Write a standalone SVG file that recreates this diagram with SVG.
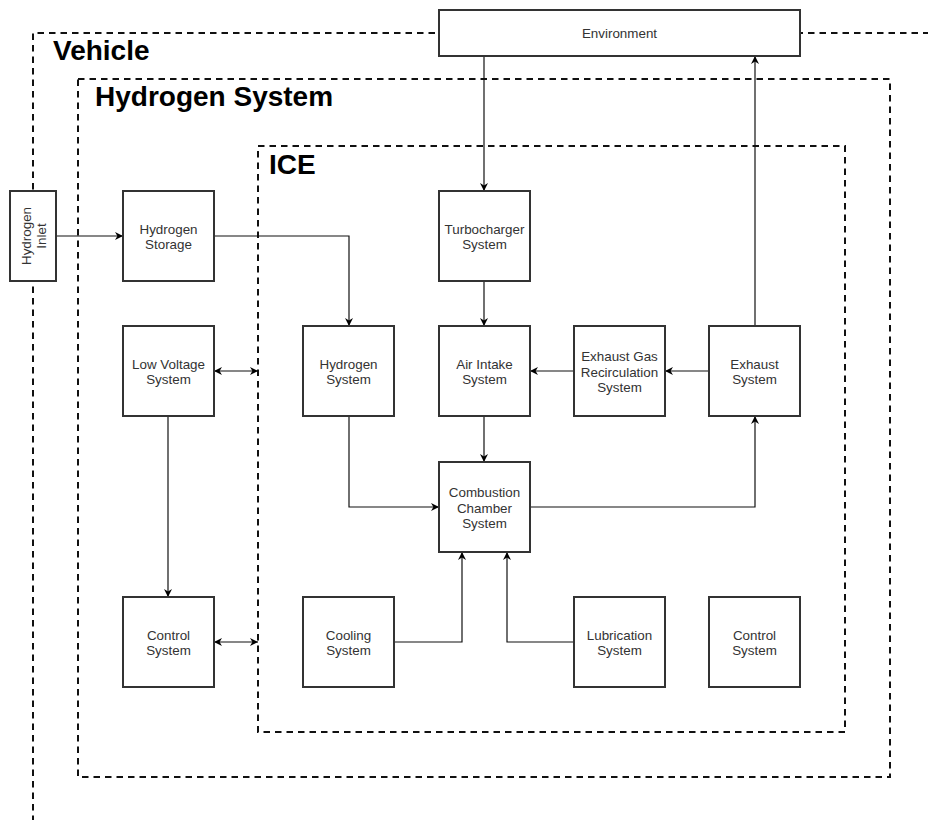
<svg xmlns="http://www.w3.org/2000/svg" width="928" height="820" viewBox="0 0 928 820">
  <defs>
    <marker id="arrow" viewBox="0 0 10 10" refX="10" refY="5" markerWidth="8" markerHeight="8" markerUnits="userSpaceOnUse" orient="auto-start-reverse">
      <path d="M0,0 L10,5 L0,10 L3,5 Z" fill="#000"/>
    </marker>
    <style>
      .frame { fill: none; stroke: #111; stroke-width: 2; stroke-dasharray: 6.5 5; }
      .title { font-family: "Liberation Sans", Arial, sans-serif; font-weight: bold; font-size: 28px; fill: #000; }
      .box { fill: #fff; stroke: #333; stroke-width: 2; }
      .label { font-family: "Liberation Sans", Arial, sans-serif; font-size: 13.4px; fill: #333; text-anchor: middle; }
      .link { fill: none; stroke: #111; stroke-width: 1.2; }
      .one { marker-end: url(#arrow); }
      .both { marker-start: url(#arrow); marker-end: url(#arrow); }
    </style>
  </defs>

  <rect width="928" height="820" fill="#fff"/>

  <!-- System boundaries -->
  <g id="vehicle">
    <path class="frame" d="M33,822 V33 H940"/>
    <text class="title" x="53" y="60">Vehicle</text>
  </g>
  <g id="hydrogen-system-boundary">
    <rect class="frame" x="78" y="79" width="812" height="698"/>
    <text class="title" x="95" y="106">Hydrogen System</text>
  </g>
  <g id="ice">
    <rect class="frame" x="258" y="146" width="587" height="586"/>
    <text class="title" x="269" y="174">ICE</text>
  </g>

  <!-- Connectors -->
  <g id="connectors">
    <path class="link one" d="M484,56 V191"/>
    <path class="link one" d="M755,326 V56"/>
    <path class="link one" d="M56,236 H123"/>
    <path class="link one" d="M214,236 H349 V326"/>
    <path class="link one" d="M484,281 V326"/>
    <path class="link one" d="M574,371 H530"/>
    <path class="link one" d="M709,371 H665"/>
    <path class="link one" d="M484,416 V462"/>
    <path class="link one" d="M349,416 V507 H439"/>
    <path class="link one" d="M530,507 H755 V416"/>
    <path class="link one" d="M394,642 H462 V552"/>
    <path class="link one" d="M574,642 H507 V552"/>
    <path class="link both" d="M214,371 H258"/>
    <path class="link both" d="M214,642 H258"/>
    <path class="link one" d="M168,416 V597"/>
  </g>

  <!-- Nodes -->
  <g id="environment">
    <rect class="box" x="439" y="10" width="361" height="46"/>
    <text class="label" x="619.5" y="37.5">Environment</text>
  </g>
  <g id="hydrogen-inlet">
    <rect class="box" x="10" y="191" width="46" height="90"/>
    <text class="label" transform="translate(33,236) rotate(-90)"><tspan x="0" y="-2.5">Hydrogen</tspan><tspan x="0" y="13">Inlet</tspan></text>
  </g>
  <g id="hydrogen-storage">
    <rect class="box" x="123" y="191" width="91" height="90"/>
    <text class="label"><tspan x="168.5" y="233.5">Hydrogen</tspan><tspan x="168.5" y="249">Storage</tspan></text>
  </g>
  <g id="turbocharger">
    <rect class="box" x="439" y="191" width="91" height="90"/>
    <text class="label"><tspan x="484.5" y="233.5">Turbocharger</tspan><tspan x="484.5" y="249">System</tspan></text>
  </g>
  <g id="low-voltage">
    <rect class="box" x="123" y="326" width="91" height="90"/>
    <text class="label"><tspan x="168.5" y="368.5">Low Voltage</tspan><tspan x="168.5" y="384">System</tspan></text>
  </g>
  <g id="hydrogen-system-node">
    <rect class="box" x="303" y="326" width="91" height="90"/>
    <text class="label"><tspan x="348.5" y="368.5">Hydrogen</tspan><tspan x="348.5" y="384">System</tspan></text>
  </g>
  <g id="air-intake">
    <rect class="box" x="439" y="326" width="91" height="90"/>
    <text class="label"><tspan x="484.5" y="368.5">Air Intake</tspan><tspan x="484.5" y="384">System</tspan></text>
  </g>
  <g id="egr">
    <rect class="box" x="574" y="326" width="91" height="90"/>
    <text class="label"><tspan x="619.5" y="361">Exhaust Gas</tspan><tspan x="619.5" y="376.5">Recirculation</tspan><tspan x="619.5" y="392">System</tspan></text>
  </g>
  <g id="exhaust">
    <rect class="box" x="709" y="326" width="91" height="90"/>
    <text class="label"><tspan x="754.5" y="368.5">Exhaust</tspan><tspan x="754.5" y="384">System</tspan></text>
  </g>
  <g id="combustion">
    <rect class="box" x="439" y="462" width="91" height="90"/>
    <text class="label"><tspan x="484.5" y="497">Combustion</tspan><tspan x="484.5" y="512.5">Chamber</tspan><tspan x="484.5" y="528">System</tspan></text>
  </g>
  <g id="control-vehicle">
    <rect class="box" x="123" y="597" width="91" height="90"/>
    <text class="label"><tspan x="168.5" y="639.5">Control</tspan><tspan x="168.5" y="655">System</tspan></text>
  </g>
  <g id="cooling">
    <rect class="box" x="303" y="597" width="91" height="90"/>
    <text class="label"><tspan x="348.5" y="639.5">Cooling</tspan><tspan x="348.5" y="655">System</tspan></text>
  </g>
  <g id="lubrication">
    <rect class="box" x="574" y="597" width="91" height="90"/>
    <text class="label"><tspan x="619.5" y="639.5">Lubrication</tspan><tspan x="619.5" y="655">System</tspan></text>
  </g>
  <g id="control-ice">
    <rect class="box" x="709" y="597" width="91" height="90"/>
    <text class="label"><tspan x="754.5" y="639.5">Control</tspan><tspan x="754.5" y="655">System</tspan></text>
  </g>
</svg>
